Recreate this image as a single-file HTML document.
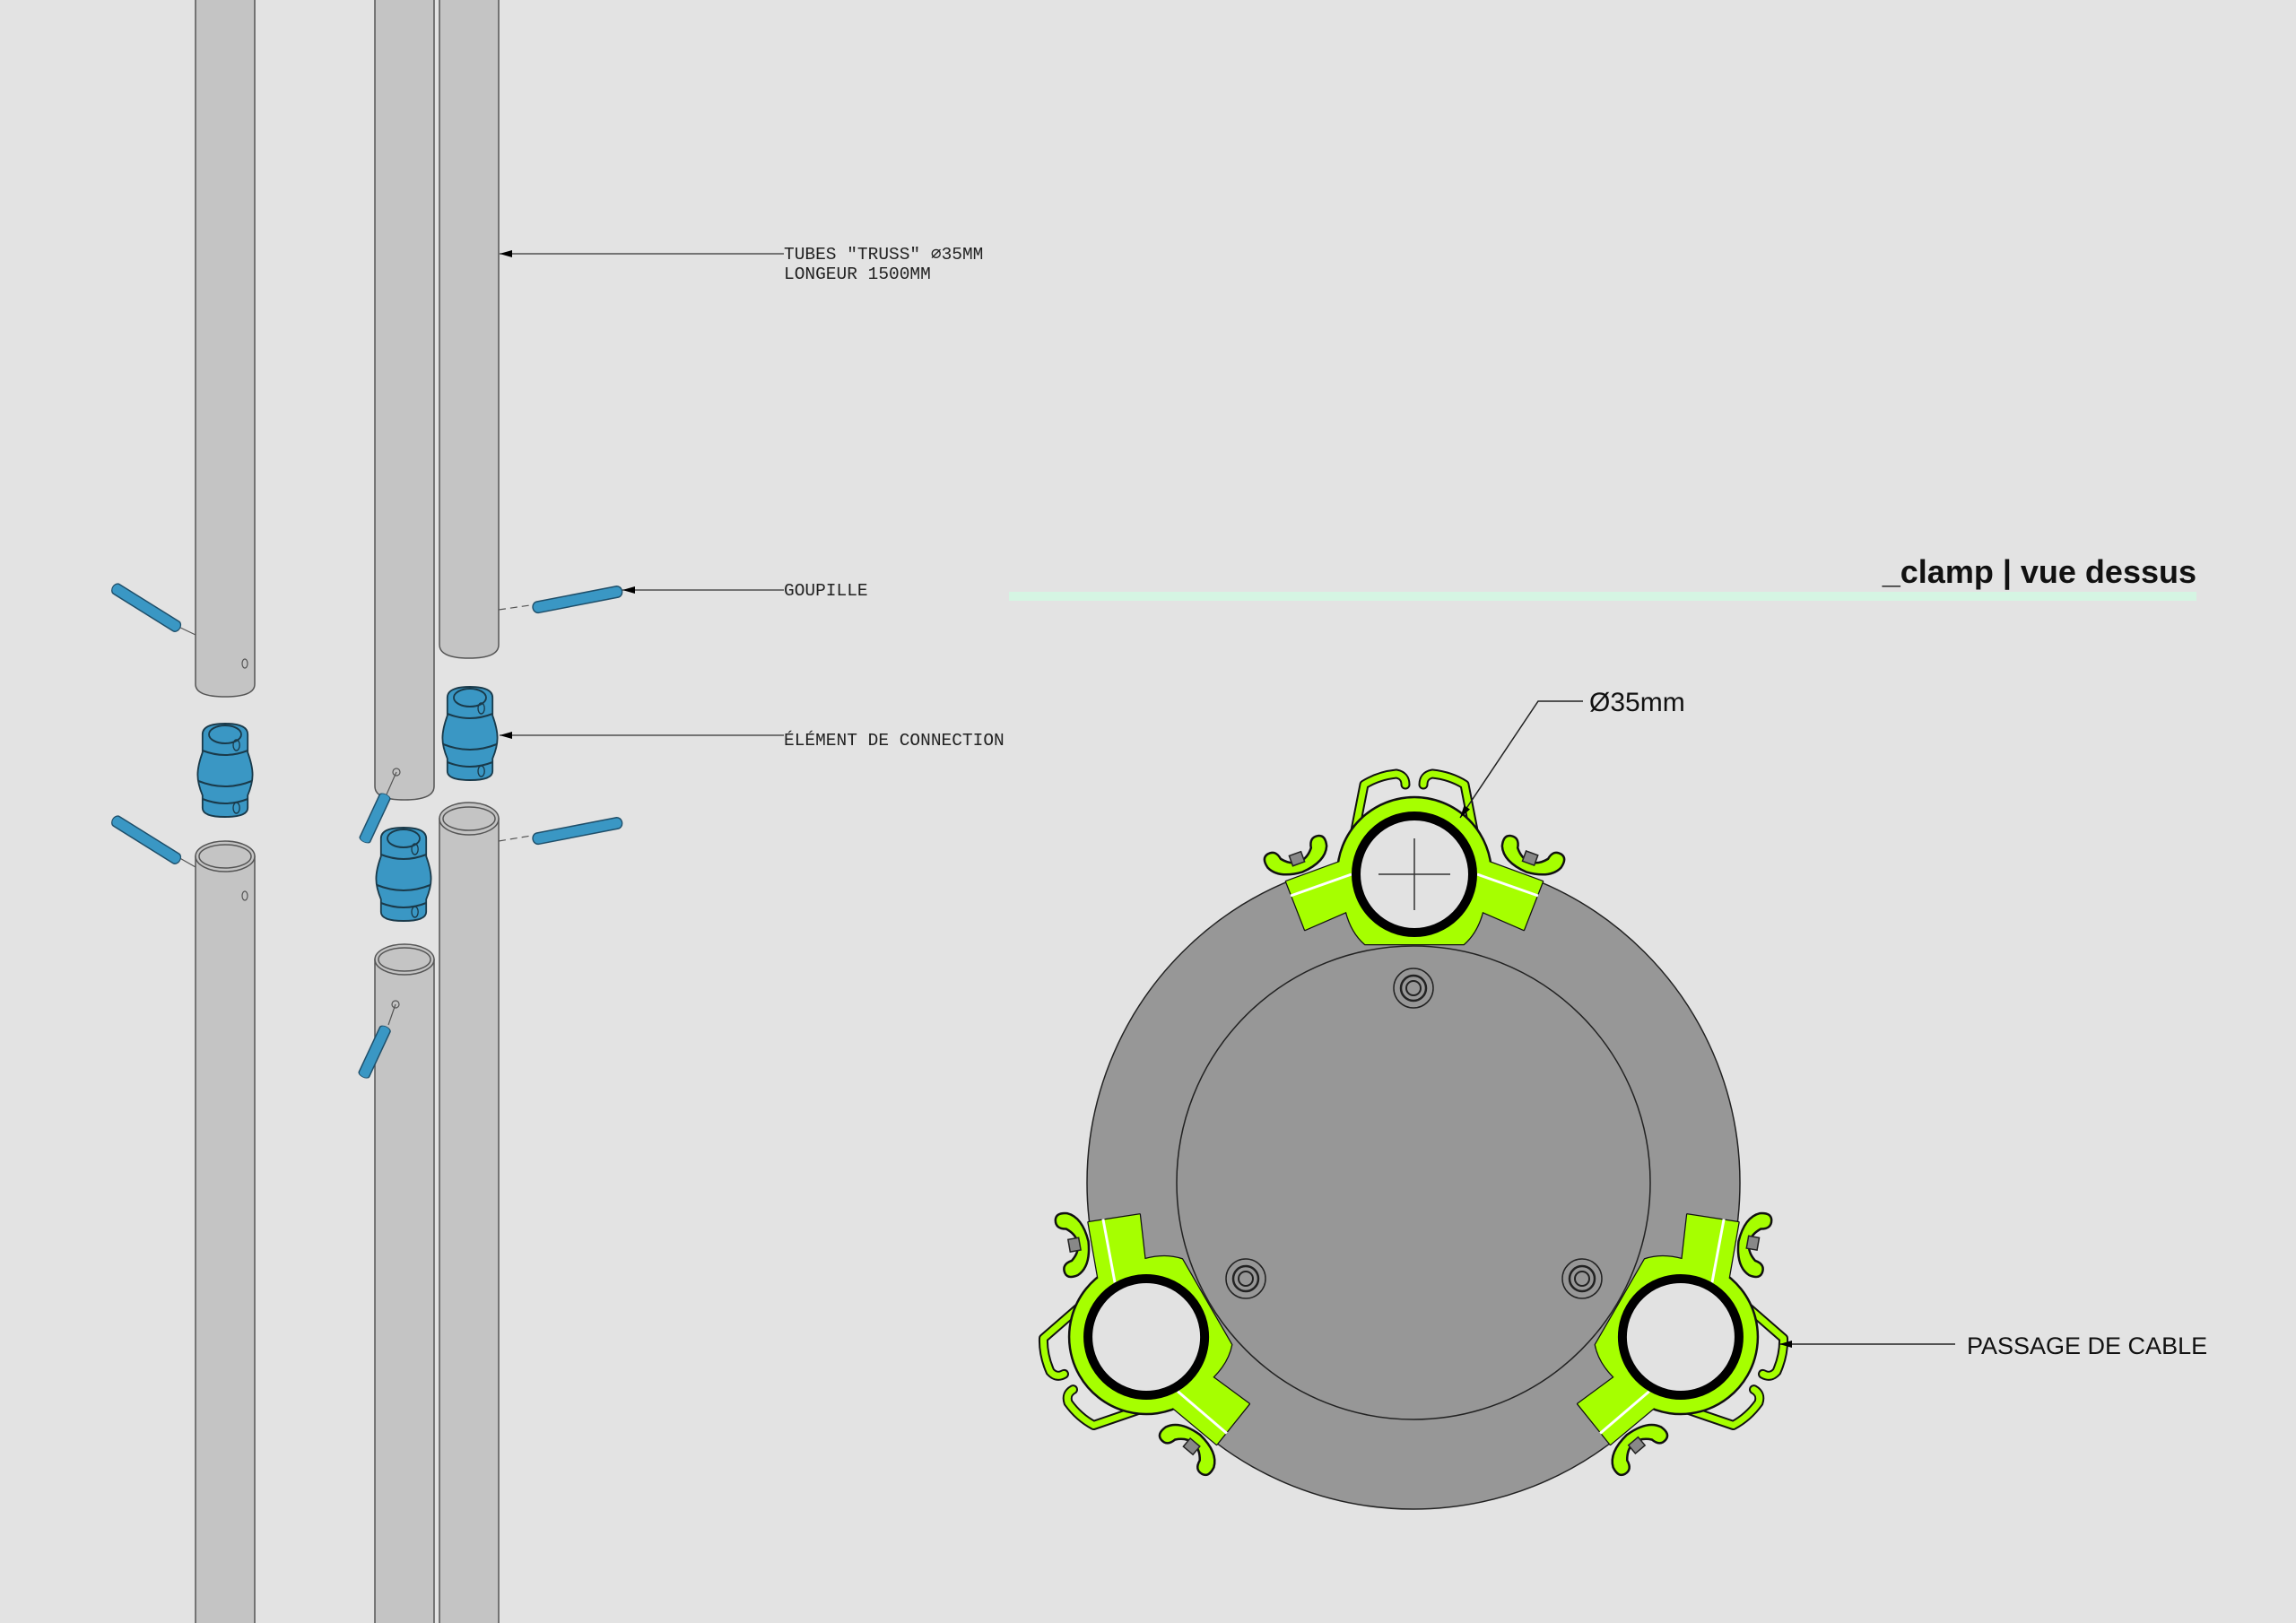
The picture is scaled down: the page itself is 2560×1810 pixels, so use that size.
<!DOCTYPE html>
<html><head><meta charset="utf-8"><style>
html,body{margin:0;padding:0;background:#e3e3e3;}
svg{display:block;}
.m{font-family:"Liberation Mono",monospace;font-size:19.5px;fill:#222;}
.s{font-family:"Liberation Sans",sans-serif;fill:#111;}
</style></head><body>
<svg width="2560" height="1810" viewBox="0 0 2560 1810" xmlns="http://www.w3.org/2000/svg">
<defs>
<marker id="ar" markerWidth="14" markerHeight="8" refX="14" refY="4" orient="auto" markerUnits="userSpaceOnUse"><path d="M14,4 L0,0 L0,8 Z" fill="#000"/></marker>
<g id="pin"><line x1="0" y1="0" x2="100" y2="0" stroke="#1f4f6a" stroke-width="14" stroke-linecap="round"/><line x1="0" y1="0" x2="100" y2="0" stroke="#3a97c4" stroke-width="11" stroke-linecap="round"/></g>
<g id="conn">
<path d="M-28,-40 Q-28,-52 0,-52 Q28,-52 28,-40 L28,-20 Q34,-5 34,5 Q34,15 28,28 L28,42 Q28,52 0,52 Q-28,52 -28,42 L-28,28 Q-34,15 -34,5 Q-34,-5 -28,-20 Z" fill="#3a97c4" stroke="#1a3a4a" stroke-width="2"/>
<ellipse cx="0" cy="-40" rx="20" ry="10" fill="#3a97c4" stroke="#1a3a4a" stroke-width="2"/>
<path d="M-28,-22 Q0,-12 28,-22 M-33,12 Q0,24 33,12 M-28,32 Q0,42 28,32" fill="none" stroke="#1a3a4a" stroke-width="2"/>
<ellipse cx="14" cy="-28" rx="4" ry="6" fill="none" stroke="#1a3a4a" stroke-width="1.5"/>
<ellipse cx="14" cy="42" rx="4" ry="6" fill="none" stroke="#1a3a4a" stroke-width="1.5"/>
</g>
<g id="nut">
<path d="M-30,-22 Q-38,-20 -35,-8 Q-28,8 0,10 Q28,8 35,-8 Q38,-20 30,-22 Q20,-24 18,-12 Q10,-2 0,-2 Q-10,-2 -18,-12 Q-20,-24 -30,-22 Z" fill="#a6ff00" stroke="#111" stroke-width="2.5"/>
<rect x="-8" y="-12" width="14" height="12" fill="#888" stroke="#222" stroke-width="1.5"/>
</g>
<path id="wings" d="M-143,8 L-72,-18 L-70,-30 L70,-30 L72,-18 L143,8 L122,62 L76,42 Q70,65 55,78 L-55,78 Q-70,65 -76,42 L-122,62 Z"/>
<g id="clamp">
<path d="M-72,-18 L-56,-100 Q-40,-110 -20,-112 Q-10,-110 -10,-100 M72,-18 L56,-100 Q40,-110 20,-112 Q10,-110 10,-100" fill="none" stroke="#111" stroke-width="11" stroke-linecap="round" stroke-linejoin="round"/>
<path d="M-72,-18 L-56,-100 Q-40,-110 -20,-112 Q-10,-110 -10,-100 M72,-18 L56,-100 Q40,-110 20,-112 Q10,-110 10,-100" fill="none" stroke="#a6ff00" stroke-width="7" stroke-linecap="round" stroke-linejoin="round"/>
<use href="#nut" transform="translate(-128,-12) rotate(-20)"/>
<use href="#nut" transform="translate(128,-12) rotate(20)"/>
<use href="#wings" fill="#a6ff00" stroke="#111" stroke-width="2.5" stroke-linejoin="round"/>
<path d="M-86,0 A86,86 0 0 1 86,0 L86,10 A86,86 0 0 1 44,74 L-44,74 A86,86 0 0 1 -86,10 Z" fill="#a6ff00" stroke="#111" stroke-width="2.5"/>
<use href="#wings" fill="#a6ff00"/>
<path d="M-80,0 A80,80 0 0 1 80,0 L80,10 A80,80 0 0 1 40,70 L-40,70 A80,80 0 0 1 -80,10 Z" fill="#a6ff00"/>
<line x1="-138" y1="24" x2="-70" y2="0" stroke="#fff" stroke-width="3"/>
<line x1="138" y1="24" x2="70" y2="0" stroke="#fff" stroke-width="3"/>
<circle cx="0" cy="0" r="65" fill="#e2e2e2" stroke="#000" stroke-width="10"/>
</g>
<g id="screw"><circle r="22" fill="#979797" stroke="#222" stroke-width="1.5"/><circle r="14" fill="none" stroke="#222" stroke-width="2.5"/><circle r="8" fill="none" stroke="#222" stroke-width="2"/></g>
</defs>

<!-- tubes -->
<g fill="#c4c4c4" stroke="#555" stroke-width="1.5">
<path d="M218,0 L218,763 Q218,777 251,777 Q284,777 284,763 L284,0"/>
<path d="M218,1810 L218,955 L284,955 L284,1810"/>
<ellipse cx="251" cy="955" rx="33" ry="17"/><ellipse cx="251" cy="955" rx="29" ry="13"/>
<path d="M418,0 L418,877 Q418,892 451,892 Q484,892 484,877 L484,0"/>
<path d="M418,1810 L418,1070 L484,1070 L484,1810"/>
<ellipse cx="451" cy="1070" rx="33" ry="17"/><ellipse cx="451" cy="1070" rx="29" ry="13"/>
<path d="M490,0 L490,719 Q490,734 523,734 Q556,734 556,719 L556,0"/>
<path d="M490,1810 L490,913 L556,913 L556,1810"/>
<ellipse cx="523" cy="913" rx="33" ry="18"/><ellipse cx="523" cy="913" rx="29" ry="13"/>
</g>
<g fill="none" stroke="#555" stroke-width="1.2">
<ellipse cx="273" cy="740" rx="3" ry="5"/><ellipse cx="273" cy="999" rx="3" ry="5"/>
<circle cx="442" cy="861" r="4"/><circle cx="441" cy="1120" r="4"/>
</g>
<!-- pins and guide lines -->
<g stroke="#555" stroke-width="1.2">
<line x1="197" y1="698" x2="218" y2="708"/><line x1="197" y1="955" x2="218" y2="967"/>
<line x1="556" y1="680" x2="598" y2="674" stroke-dasharray="8,5"/>
<line x1="556" y1="938" x2="598" y2="931" stroke-dasharray="8,5"/>
<line x1="431" y1="886" x2="442" y2="861"/><line x1="433" y1="1143" x2="441" y2="1120"/>
</g>
<use href="#pin" transform="translate(130,657) rotate(32) scale(0.78,1)"/>
<use href="#pin" transform="translate(130,916) rotate(32) scale(0.78,1)"/>
<use href="#pin" transform="translate(688,660) rotate(169) scale(0.9,1)"/>
<use href="#pin" transform="translate(688,918) rotate(169) scale(0.9,1)"/>
<use href="#pin" transform="translate(407,936) rotate(-65) scale(0.52,1)"/>
<use href="#pin" transform="translate(406,1198) rotate(-65) scale(0.55,1)"/>
<use href="#conn" transform="translate(251,859) scale(0.9,1)"/>
<use href="#conn" transform="translate(524,818) scale(0.9,1)"/>
<use href="#conn" transform="translate(450,975) scale(0.9,1)"/>

<!-- labels left -->
<g stroke="#333" stroke-width="1.2">
<line x1="874" y1="283" x2="557" y2="283" marker-end="url(#ar)"/>
<line x1="874" y1="658" x2="694" y2="658" marker-end="url(#ar)"/>
<line x1="874" y1="820" x2="557" y2="820" marker-end="url(#ar)"/>
</g>
<text class="m" x="874" y="289">TUBES "TRUSS" ⌀35MM</text>
<text class="m" x="874" y="311">LONGEUR 1500MM</text>
<text class="m" x="874" y="664">GOUPILLE</text>
<text class="m" x="874" y="831">ÉLÉMENT DE CONNECTION</text>

<!-- title -->
<rect x="1125" y="660" width="1324" height="10" fill="#d5f5e3"/>
<text class="s" x="2449" y="650" text-anchor="end" font-size="36" font-weight="bold">_clamp  | vue dessus</text>

<!-- base -->
<circle cx="1576" cy="1319" r="364" fill="#979797" stroke="#222" stroke-width="1.5"/>
<circle cx="1576" cy="1319" r="264" fill="#979797" stroke="#222" stroke-width="1.5"/>
<use href="#screw" transform="translate(1576,1102)"/>
<use href="#screw" transform="translate(1389,1426)"/>
<use href="#screw" transform="translate(1764,1426)"/>

<use href="#clamp" transform="translate(1577,975)"/>
<use href="#clamp" transform="rotate(240 1576 1319) translate(1576,975)"/>
<use href="#clamp" transform="rotate(120 1576 1319) translate(1576,975)"/>
<g stroke="#333" stroke-width="1.5">
<line x1="1537" y1="975" x2="1617" y2="975"/><line x1="1577" y1="935" x2="1577" y2="1015"/>
</g>

<!-- right labels -->
<g stroke="#222" stroke-width="1.5">
<polyline points="1765,782 1715,782 1628,912" fill="none" marker-end="url(#ar)"/>
<line x1="2180" y1="1499" x2="1984" y2="1499" marker-end="url(#ar)"/>
</g>
<text class="s" x="1772" y="793" font-size="30">Ø35mm</text>
<text class="s" x="2193" y="1510" font-size="27">PASSAGE DE CABLE</text>
</svg>
</body></html>
